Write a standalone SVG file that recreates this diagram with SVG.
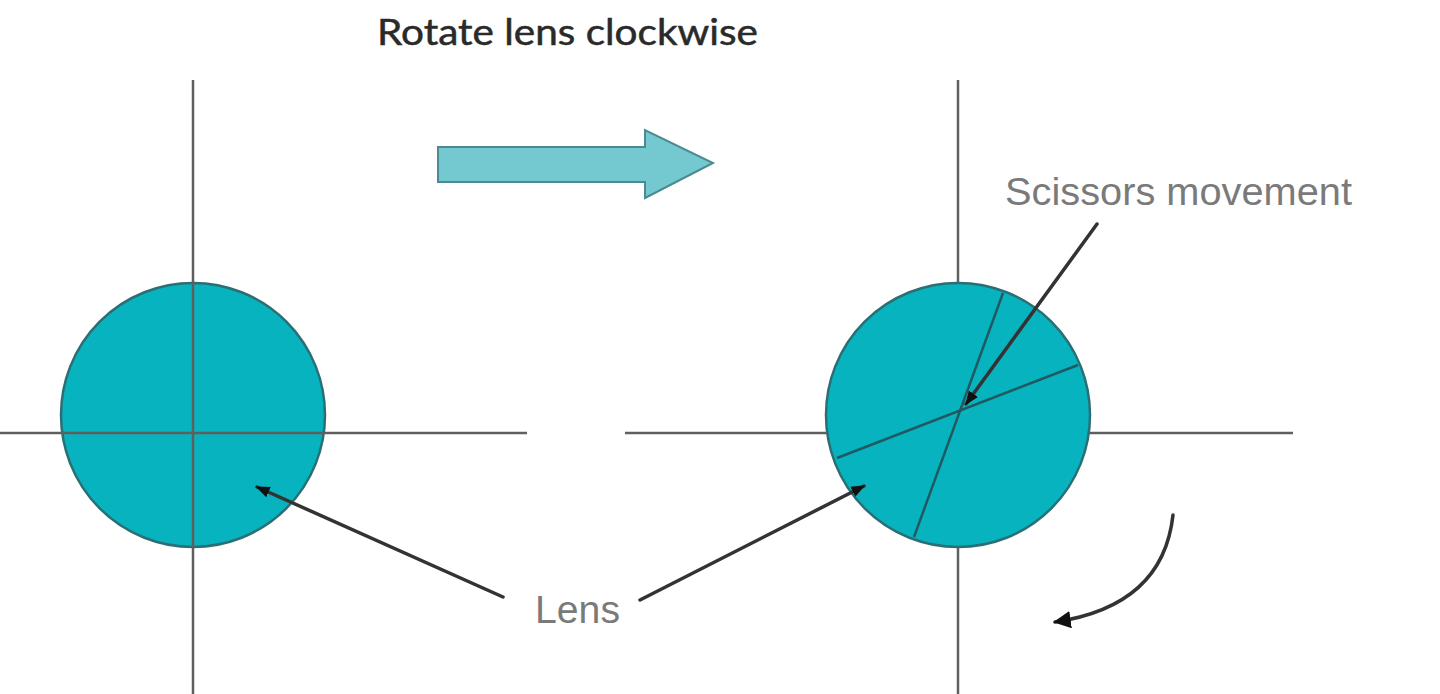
<svg xmlns="http://www.w3.org/2000/svg" width="1440" height="694" viewBox="0 0 1440 694">
<defs>
<style>
.axis{stroke:#5f5f5f;stroke-width:2.5;fill:none}
.lens{fill:#07b3bf;stroke:#2a6f74;stroke-width:2.5}
.cut{stroke:#1f5a60;stroke-width:2.5;fill:none}
.ptr{stroke:#333;stroke-width:3.5;fill:none;stroke-linecap:round}
.lbl{font-family:"Liberation Sans",Arial,sans-serif;font-size:39px;fill:#7a7a7a}
</style>
<marker id="ah" viewBox="0 0 10 10" refX="9" refY="5" markerWidth="4" markerHeight="4" orient="auto" markerUnits="strokeWidth">
<path d="M0,1 L10,5 L0,9 Z" fill="#111"/>
</marker>
<marker id="ahBig" viewBox="0 0 10 10" refX="9" refY="5" markerWidth="5" markerHeight="5" orient="auto" markerUnits="strokeWidth">
<path d="M0,0 L10,5 L0,10 Z" fill="#111"/>
</marker>
</defs>
<rect width="1440" height="694" fill="#fff"/>
<text x="377" y="45" font-family="Lato,'Open Sans',sans-serif" font-size="36" fill="#2a2a2a" stroke="#2a2a2a" stroke-width="0.5" textLength="381" lengthAdjust="spacingAndGlyphs">Rotate lens clockwise</text>
<g id="arrow-rotate">
<path d="M438,147 L645,147 L645,130 L713,163 L645,198 L645,182 L438,182 Z" fill="#74c9d1" stroke="#4a8a90" stroke-width="2"/>
</g>
<g id="lens-left">
<circle class="lens" cx="193" cy="415" r="132"/>
<line class="axis" x1="193" y1="80" x2="193" y2="694"/>
<line class="axis" x1="0" y1="433" x2="527" y2="433"/>
</g>
<g id="lens-right">
<line class="axis" x1="958" y1="80" x2="958" y2="694"/>
<line class="axis" x1="625" y1="433" x2="1293" y2="433"/>
<circle class="lens" cx="958" cy="415" r="132"/>
<line class="cut" x1="1003" y1="293" x2="914" y2="537"/>
<line class="cut" x1="1078" y1="365" x2="837" y2="458"/>
</g>
<g id="labels">
<text class="lbl" x="1005" y="205" textLength="347" lengthAdjust="spacingAndGlyphs">Scissors movement</text>
<text class="lbl" x="535" y="623" textLength="85" lengthAdjust="spacingAndGlyphs">Lens</text>
</g>
<g id="connectors">
<line class="ptr" x1="503" y1="597" x2="257" y2="487" marker-end="url(#ah)"/>
<line class="ptr" x1="640" y1="600" x2="864" y2="486" marker-end="url(#ah)"/>
<line class="ptr" x1="1097" y1="224" x2="966" y2="404" marker-end="url(#ah)"/>
<path class="ptr" d="M1173,515 Q1163,606 1055,622" stroke="#111" stroke-width="4.5" marker-end="url(#ahBig)"/>
</g>
</svg>
